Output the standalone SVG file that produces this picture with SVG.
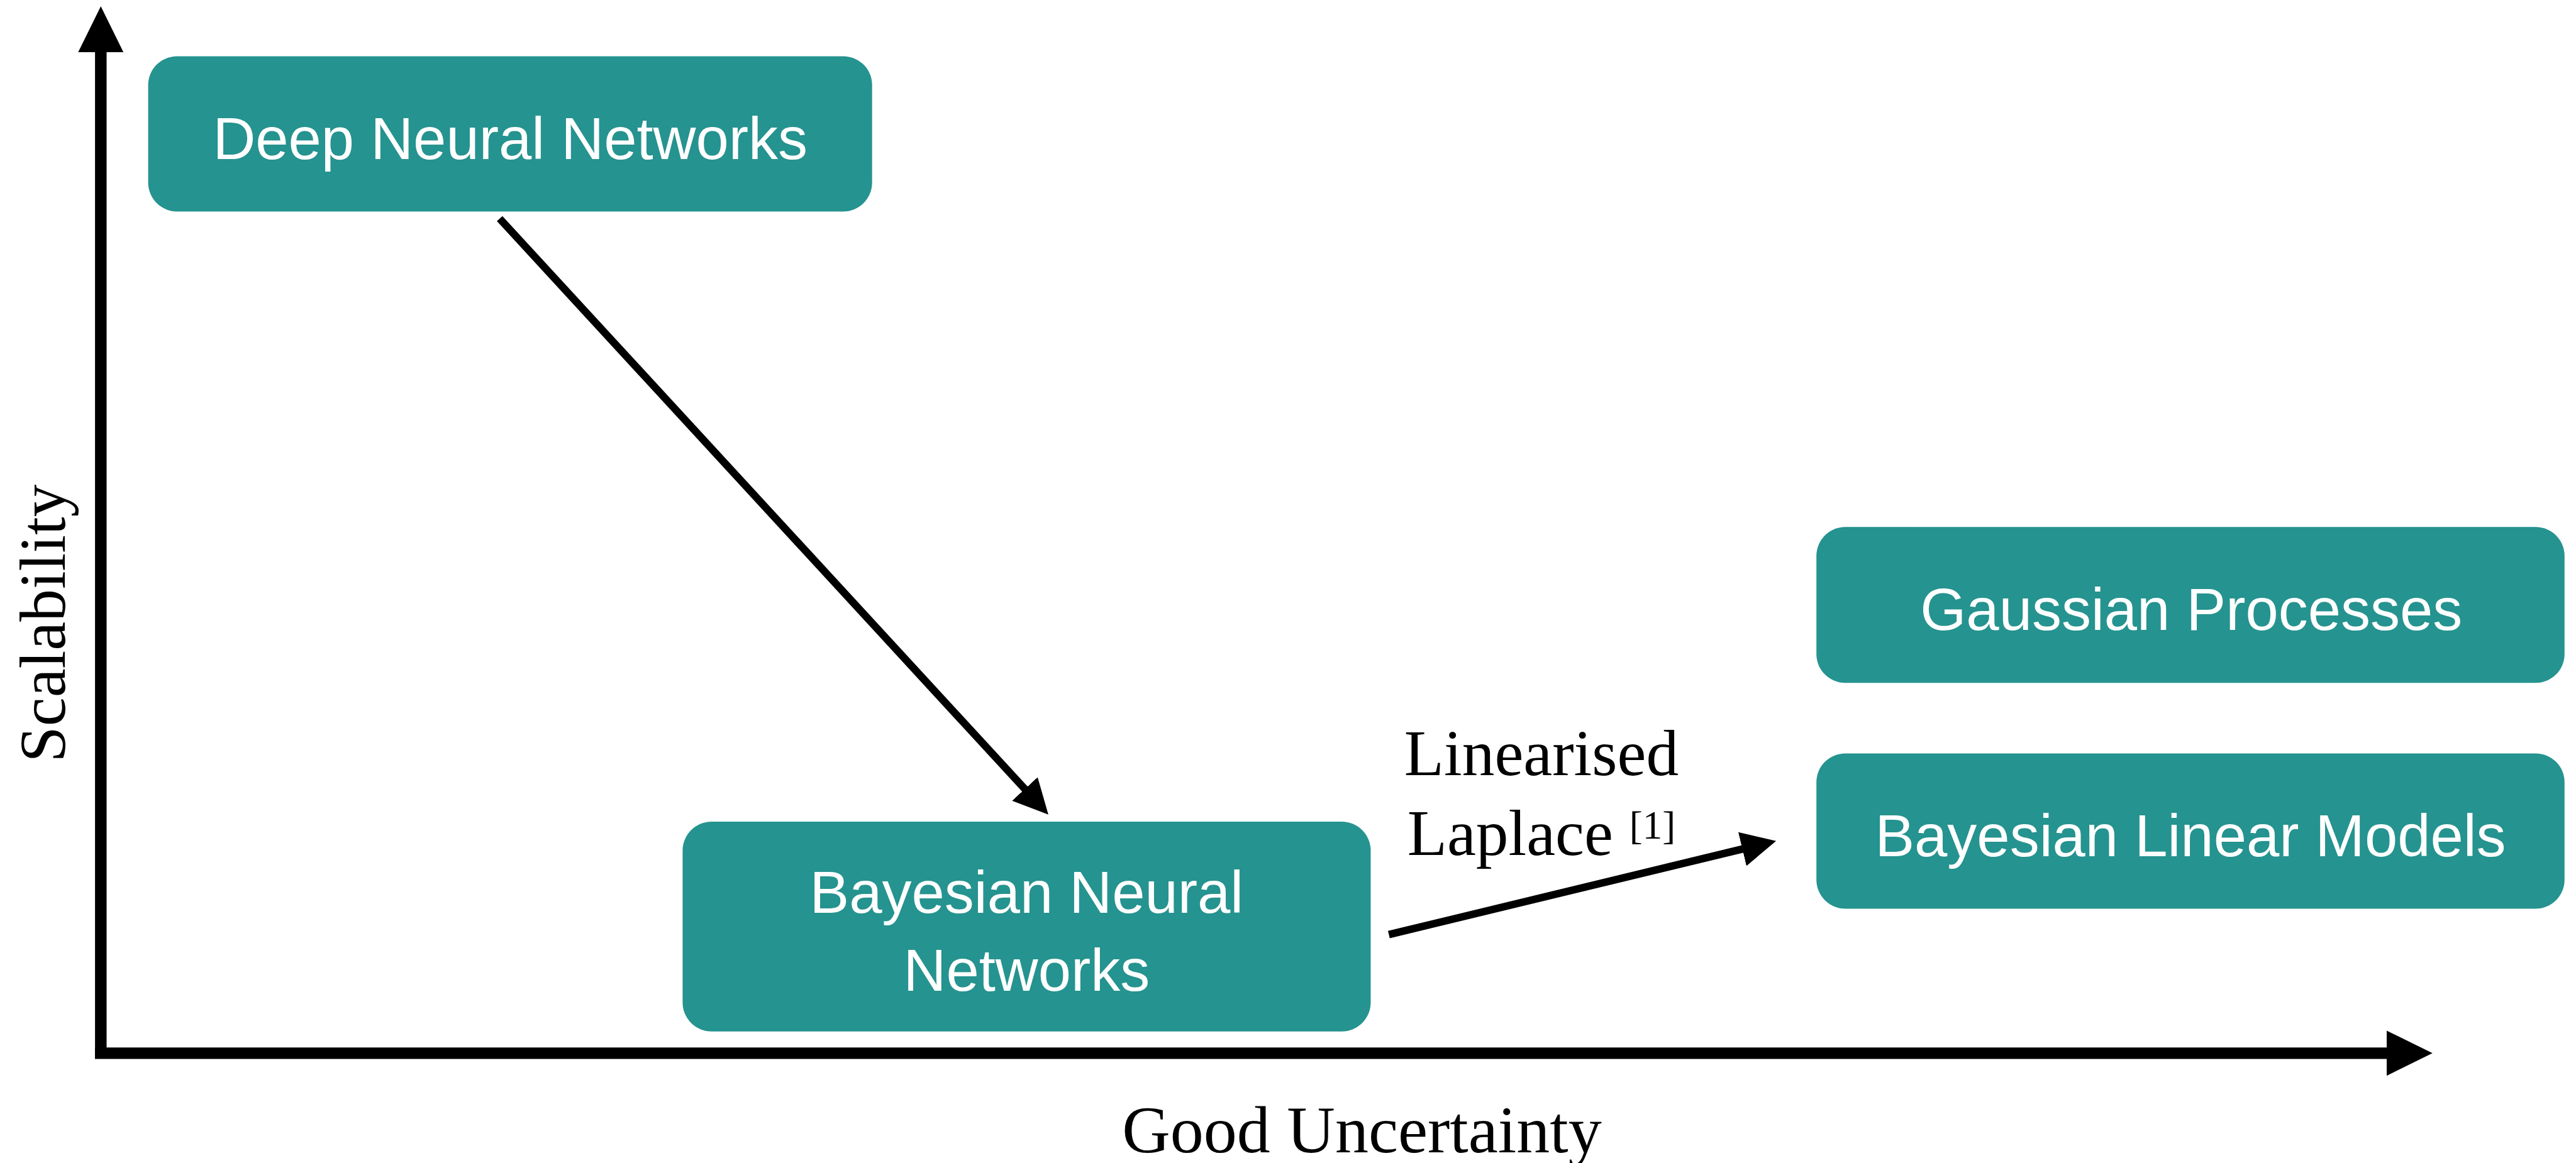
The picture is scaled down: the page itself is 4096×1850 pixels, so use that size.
<svg xmlns="http://www.w3.org/2000/svg" width="4096" height="1850" viewBox="0 0 4096 1850">
  <style>
    .box { fill: #25938F; }
    .label { font-family: "Liberation Sans", Arial, sans-serif; font-size: 94px; fill: #FFFFFF; text-anchor: middle; }
    .axis-label { font-family: "Liberation Serif", "Times New Roman", serif; font-size: 103.4px; fill: #000000; text-anchor: middle; }
    .axis { stroke: #000000; stroke-width: 18.4; fill: none; }
    .edge { stroke: #000000; stroke-width: 12; fill: none; }
  </style>
  <defs>
    <marker id="axis-head" markerUnits="userSpaceOnUse" markerWidth="73" markerHeight="72" viewBox="0 0 73 72" refX="1" refY="36" orient="auto">
      <path d="M0,0 L73,36 L0,72 Z" fill="#000000"/>
    </marker>
    <marker id="edge-head" markerUnits="userSpaceOnUse" markerWidth="55.2" markerHeight="55.2" viewBox="0 0 55.2 55.2" refX="2" refY="27.6" orient="auto">
      <path d="M0,0 L55.2,27.6 L0,55.2 Z" fill="#000000"/>
    </marker>
  </defs>

  <!-- axes -->
  <g id="axes">
    <line class="axis" x1="160.3" y1="1678" x2="160.3" y2="82" marker-end="url(#axis-head)"/>
    <line class="axis" x1="151" y1="1675.35" x2="3795.8" y2="1675.35" marker-end="url(#axis-head)"/>
    <text class="axis-label" x="2165.5" y="1832.6" style="font-size:106px">Good Uncertainty</text>
    <text class="axis-label" transform="translate(102.5,991.6) rotate(-90)" x="0" y="0">Scalability</text>
  </g>

  <!-- nodes -->
  <g id="deep-neural-networks">
    <rect class="box" x="235.6" y="89.4" width="1151.1" height="247" rx="46" ry="46"/>
    <text class="label" x="811.2" y="253.2">Deep Neural Networks</text>
  </g>

  <g id="bayesian-neural-networks">
    <rect class="box" x="1085.4" y="1307" width="1094.1" height="333.7" rx="46" ry="46"/>
    <text class="label" x="1632.4" y="1452.4">Bayesian Neural</text>
    <text class="label" x="1632.4" y="1576">Networks</text>
  </g>

  <g id="gaussian-processes">
    <rect class="box" x="2888.2" y="838.3" width="1189.6" height="248" rx="46" ry="46"/>
    <text class="label" x="3484.3" y="1002.1">Gaussian Processes</text>
  </g>

  <g id="bayesian-linear-models">
    <rect class="box" x="2888.2" y="1198.4" width="1189.6" height="247" rx="46" ry="46"/>
    <text class="label" x="3483" y="1362.2">Bayesian Linear Models</text>
  </g>

  <!-- connectors -->
  <g id="connectors">
    <line class="edge" x1="794.5" y1="347.8" x2="1630.9" y2="1256.5" marker-end="url(#edge-head)"/>
    <line class="edge" x1="2208.4" y1="1486.6" x2="2772.4" y2="1350.2" marker-end="url(#edge-head)"/>
    <text class="axis-label" x="2451" y="1233.4">Linearised</text>
    <text class="axis-label" x="2451" y="1359.6">Laplace <tspan style="font-size:63px" dy="-26">[1]</tspan></text>
  </g>
</svg>
